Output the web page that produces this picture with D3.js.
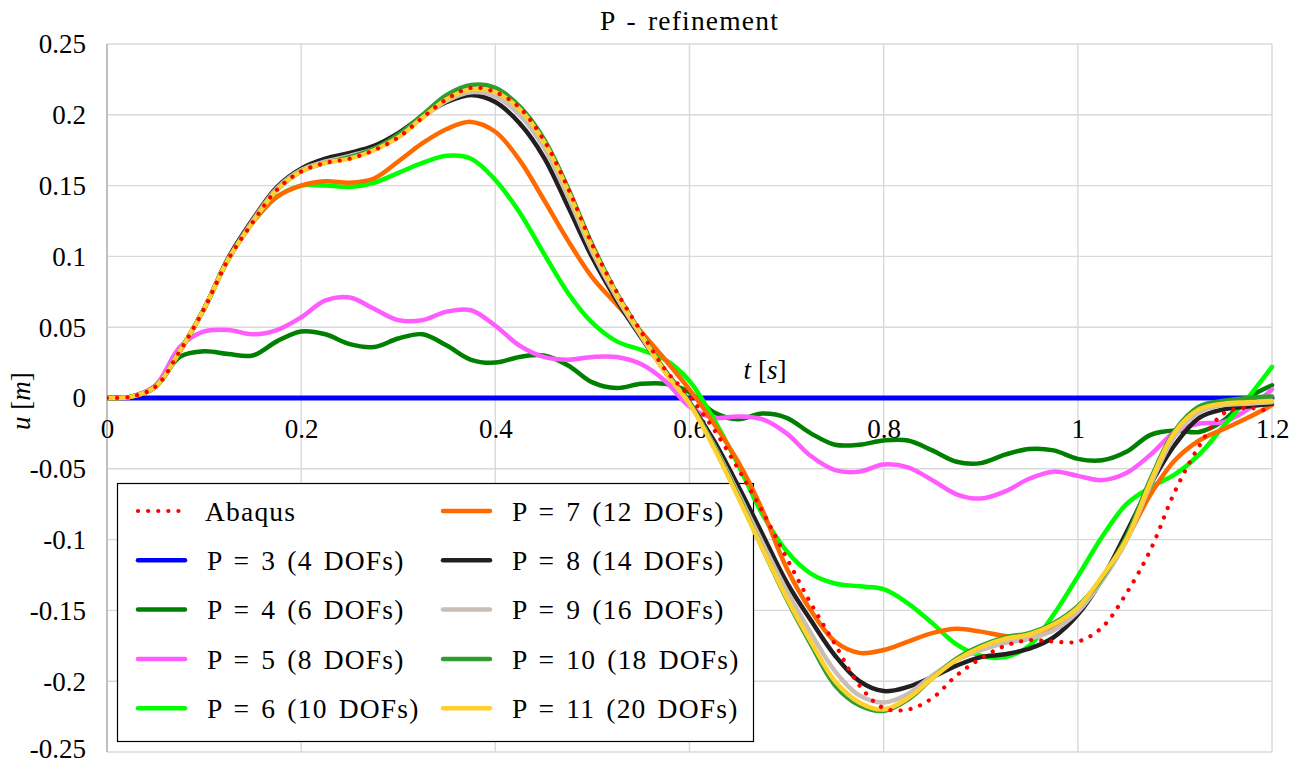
<!DOCTYPE html>
<html>
<head>
<meta charset="utf-8">
<script src="https://cdn.jsdelivr.net/npm/d3@7"></script>
<style>
  html, body { margin: 0; padding: 0; background: #ffffff; }
  svg { display: block; }
  .num { font-family: "Liberation Serif", "Times New Roman", serif; font-size: 27px; fill: #000; }
  .word { font-family: "Liberation Serif", "Times New Roman", serif; font-size: 27.5px; fill: #000; letter-spacing: 1.2px; word-spacing: 3px; }
</style>
</head>
<body>
<svg id="chart" width="1301" height="765"></svg>
<script>
// Sample times (s)
const times = [0, 0.025, 0.05, 0.075, 0.1, 0.125, 0.15, 0.175, 0.2, 0.225, 0.25, 0.275, 0.3,
  0.325, 0.35, 0.375, 0.4, 0.425, 0.45, 0.475, 0.5, 0.525, 0.55, 0.575, 0.6,
  0.625, 0.65, 0.675, 0.7, 0.725, 0.75, 0.775, 0.8, 0.825, 0.85, 0.875, 0.9,
  0.925, 0.95, 0.975, 1.0, 1.025, 1.05, 1.075, 1.1, 1.125, 1.15, 1.175, 1.2];

// Displacement u (m) for each solution
const abaqus = [0, 0.001, 0.008, 0.033, 0.063, 0.098, 0.124, 0.147, 0.160, 0.166, 0.169, 0.175, 0.184,
  0.198, 0.211, 0.219, 0.216, 0.205, 0.182, 0.148, 0.108, 0.075, 0.047, 0.020, 0.001,
  -0.022, -0.050, -0.080, -0.113, -0.145, -0.174, -0.203, -0.219, -0.220, -0.212, -0.196, -0.184,
  -0.175, -0.171, -0.172, -0.172, -0.162, -0.138, -0.107, -0.066, -0.034, -0.011, -0.007, -0.010];
const p3 = [0, 0, 0, 0, 0, 0, 0, 0, 0, 0, 0, 0, 0,
  0, 0, 0, 0, 0, 0, 0, 0, 0, 0, 0, 0,
  0, 0, 0, 0, 0, 0, 0, 0, 0, 0, 0, 0,
  0, 0, 0, 0, 0, 0, 0, 0, 0, 0, 0, 0];
const p4 = [0, 0.001, 0.008, 0.029, 0.033, 0.031, 0.030, 0.040, 0.047, 0.045, 0.038, 0.036, 0.042,
  0.045, 0.037, 0.027, 0.025, 0.029, 0.030, 0.023, 0.011, 0.007, 0.010, 0.010, 0.004,
  -0.010, -0.015, -0.011, -0.014, -0.025, -0.033, -0.033, -0.030, -0.030, -0.037, -0.045, -0.046,
  -0.040, -0.036, -0.037, -0.043, -0.044, -0.038, -0.026, -0.023, -0.024, -0.016, 0.000, 0.009];
const p5 = [0, 0.001, 0.009, 0.036, 0.047, 0.048, 0.045, 0.048, 0.057, 0.069, 0.071, 0.063, 0.055,
  0.055, 0.061, 0.062, 0.051, 0.037, 0.029, 0.027, 0.029, 0.029, 0.024, 0.012, -0.006,
  -0.014, -0.013, -0.015, -0.025, -0.041, -0.051, -0.052, -0.047, -0.049, -0.058, -0.068, -0.071,
  -0.066, -0.057, -0.052, -0.055, -0.058, -0.053, -0.040, -0.024, -0.018, -0.017, -0.008, 0.006];
const p6 = [0, 0.001, 0.008, 0.033, 0.063, 0.098, 0.124, 0.142, 0.150, 0.150, 0.149, 0.152, 0.159,
  0.166, 0.171, 0.169, 0.154, 0.131, 0.102, 0.074, 0.053, 0.040, 0.034, 0.027, 0.012,
  -0.015, -0.047, -0.082, -0.108, -0.124, -0.131, -0.133, -0.135, -0.145, -0.159, -0.174, -0.182,
  -0.183, -0.175, -0.153, -0.126, -0.098, -0.075, -0.063, -0.054, -0.040, -0.020, 0.000, 0.022];
const p7 = [0, 0.001, 0.008, 0.033, 0.063, 0.098, 0.124, 0.142, 0.150, 0.153, 0.152, 0.155, 0.167,
  0.180, 0.190, 0.195, 0.188, 0.168, 0.140, 0.111, 0.085, 0.066, 0.047, 0.027, 0.006,
  -0.018, -0.045, -0.079, -0.120, -0.150, -0.172, -0.180, -0.178, -0.172, -0.166, -0.163, -0.165,
  -0.168, -0.168, -0.163, -0.151, -0.128, -0.100, -0.068, -0.044, -0.030, -0.022, -0.014, -0.005];
const p8 = [0, 0.001, 0.008, 0.033, 0.063, 0.099, 0.126, 0.149, 0.162, 0.169, 0.173, 0.178, 0.187,
  0.199, 0.209, 0.214, 0.209, 0.194, 0.170, 0.135, 0.099, 0.069, 0.043, 0.019, -0.003,
  -0.030, -0.062, -0.096, -0.130, -0.157, -0.182, -0.200, -0.207, -0.204, -0.197, -0.189, -0.183,
  -0.181, -0.177, -0.169, -0.153, -0.128, -0.095, -0.061, -0.033, -0.014, -0.008, -0.006, -0.004];
const p9 = [0, 0.001, 0.008, 0.033, 0.063, 0.098, 0.125, 0.148, 0.161, 0.167, 0.171, 0.176, 0.185,
  0.198, 0.210, 0.216, 0.213, 0.200, 0.177, 0.142, 0.103, 0.071, 0.044, 0.018, -0.004,
  -0.033, -0.067, -0.102, -0.136, -0.166, -0.193, -0.210, -0.215, -0.209, -0.196, -0.185, -0.178,
  -0.173, -0.170, -0.164, -0.151, -0.129, -0.101, -0.061, -0.027, -0.010, -0.005, -0.004, -0.003];
const p10 = [0, 0.001, 0.008, 0.033, 0.063, 0.098, 0.124, 0.147, 0.160, 0.166, 0.170, 0.176, 0.186,
  0.200, 0.214, 0.221, 0.219, 0.206, 0.183, 0.148, 0.108, 0.074, 0.046, 0.019, -0.003,
  -0.034, -0.069, -0.106, -0.142, -0.174, -0.203, -0.217, -0.221, -0.213, -0.198, -0.184, -0.175,
  -0.169, -0.166, -0.159, -0.147, -0.127, -0.098, -0.057, -0.023, -0.006, -0.002, 0.000, 0.001];
const p11 = [0, 0.001, 0.008, 0.033, 0.063, 0.098, 0.124, 0.147, 0.160, 0.166, 0.169, 0.175, 0.184,
  0.198, 0.211, 0.218, 0.216, 0.204, 0.181, 0.146, 0.106, 0.073, 0.045, 0.018, -0.004,
  -0.035, -0.070, -0.106, -0.141, -0.172, -0.200, -0.215, -0.220, -0.212, -0.198, -0.185, -0.176,
  -0.170, -0.167, -0.160, -0.148, -0.126, -0.100, -0.059, -0.024, -0.008, -0.004, -0.003, -0.002];

const seriesNames = ["Abaqus", "P = 3 (4 DOFs)", "P = 4 (6 DOFs)", "P = 5 (8 DOFs)", "P = 6 (10 DOFs)",
  "P = 7 (12 DOFs)", "P = 8 (14 DOFs)", "P = 9 (16 DOFs)", "P = 10 (18 DOFs)", "P = 11 (20 DOFs)"];
const seriesValues = [abaqus, p3, p4, p5, p6, p7, p8, p9, p10, p11];
const seriesColors = ["#ff0000", "#0000ff", "#008000", "#ff5cff", "#00ff00",
  "#ff6a00", "#231f20", "#c8beb7", "#2e9e2e", "#ffd02e"];

const xTicks = [0, 0.2, 0.4, 0.6, 0.8, 1.0, 1.2];
const xTickLabels = ["0", "0.2", "0.4", "0.6", "0.8", "1", "1.2"];
const yTicks = [-0.25, -0.2, -0.15, -0.1, -0.05, 0, 0.05, 0.1, 0.15, 0.2, 0.25];
const yTickLabels = ["-0.25", "-0.2", "-0.15", "-0.1", "-0.05", "0", "0.05", "0.1", "0.15", "0.2", "0.25"];

const titleText = "P - refinement";

const svg = d3.select("#chart");
const plotL = 107, plotR = 1272, plotT = 44, plotB = 752;

const x = d3.scaleLinear().domain([0, 1.2]).range([plotL, plotR]);
const y = d3.scaleLinear().domain([-0.25, 0.25]).range([plotB, plotT]);

// Grid
const grid = svg.append("g");
grid.selectAll("line.v").data(xTicks).join("line")
  .attr("class", "v")
  .attr("x1", d => x(d)).attr("x2", d => x(d))
  .attr("y1", plotT).attr("y2", plotB)
  .attr("stroke", "#d9d9d9").attr("stroke-width", 1.4);
grid.selectAll("line.h").data(yTicks).join("line")
  .attr("class", "h")
  .attr("x1", plotL).attr("x2", plotR)
  .attr("y1", d => y(d)).attr("y2", d => y(d))
  .attr("stroke", "#d9d9d9").attr("stroke-width", 1.4);
// Left axis line
svg.append("line").attr("x1", plotL).attr("x2", plotL).attr("y1", plotT).attr("y2", plotB)
  .attr("stroke", "#bfbfbf").attr("stroke-width", 2);

// Y axis tick labels (the lowest one sits a little higher to stay inside the frame)
const yAxis = d3.axisLeft(y).tickValues(yTicks)
  .tickFormat((d, i) => yTickLabels[i]).tickSize(0).tickPadding(21);
const gy = svg.append("g").attr("transform", `translate(${plotL},0)`).call(yAxis);
gy.attr("font-family", null).attr("font-size", null);
gy.select(".domain").remove();
gy.selectAll("text").attr("class", "num")
  .attr("dy", (d, i) => i === 0 ? "0.2em" : "0.33em");

// X axis tick labels, along u = 0
const xAxis = d3.axisBottom(x).tickValues(xTicks)
  .tickFormat((d, i) => xTickLabels[i]).tickSize(0).tickPadding(21);
const gx = svg.append("g").attr("transform", `translate(0,${y(0)})`).call(xAxis);
gx.attr("font-family", null).attr("font-size", null);
gx.select(".domain").remove();
gx.selectAll("text").attr("class", "num");

// Axis titles
const tLabel = svg.append("text").attr("class", "num").attr("x", 765).attr("y", 379)
  .attr("text-anchor", "middle");
tLabel.append("tspan").attr("font-style", "italic").text("t");
tLabel.append("tspan").text(" [");
tLabel.append("tspan").attr("font-style", "italic").text("s");
tLabel.append("tspan").text("]");

const uLabel = svg.append("text").attr("class", "num")
  .attr("transform", "translate(30,401) rotate(-90)").attr("text-anchor", "middle");
uLabel.append("tspan").attr("font-style", "italic").text("u");
uLabel.append("tspan").text(" [");
uLabel.append("tspan").attr("font-style", "italic").text("m");
uLabel.append("tspan").text("]");

// Title
svg.append("text").attr("class", "word").attr("x", (plotL + plotR) / 2).attr("y", 30)
  .attr("text-anchor", "middle").text(titleText);

// Legend
const legend = svg.append("g");
legend.append("rect").attr("x", 117.5).attr("y", 483.5).attr("width", 636).attr("height", 258)
  .attr("fill", "#ffffff").attr("stroke", "#000000").attr("stroke-width", 1.2);
seriesNames.forEach((name, i) => {
  const col = Math.floor(i / 5), row = i % 5;
  const lx = 138 + col * 305, ly = 511 + row * 49.3;
  const sample = legend.append("line")
    .attr("x1", lx).attr("x2", lx + 47).attr("y1", ly).attr("y2", ly)
    .attr("stroke", seriesColors[i]).attr("stroke-linecap", "round");
  if (i === 0) {
    sample.attr("stroke-width", 4.2).attr("stroke-dasharray", "0.1 10");
  } else {
    sample.attr("stroke-width", 4.5);
  }
  legend.append("text").attr("class", "word")
    .attr("x", lx + (i === 0 ? 67 : 69)).attr("y", ly).attr("dy", "0.35em").text(name);
});

// Curves
svg.append("clipPath").attr("id", "plotClip").append("rect")
  .attr("x", plotL).attr("y", plotT - 4).attr("width", plotR - plotL + 3).attr("height", plotB - plotT + 8);

const line = d3.line()
  .x((d, i) => x(times[i]))
  .y(d => y(d))
  .curve(d3.curveCatmullRom.alpha(0.5));

const curves = svg.append("g").attr("clip-path", "url(#plotClip)");
const order = [1, 2, 3, 4, 5, 6, 7, 8, 9, 0];
order.forEach(k => {
  const path = curves.append("path")
    .attr("d", line(seriesValues[k]))
    .attr("fill", "none")
    .attr("stroke", seriesColors[k])
    .attr("stroke-linejoin", "round")
    .attr("stroke-linecap", "round");
  if (k === 0) {
    path.attr("stroke-width", 4.2).attr("stroke-dasharray", "0.1 10");
  } else {
    path.attr("stroke-width", k === 1 ? 5 : 4.5);
  }
});
</script>
</body>
</html>
